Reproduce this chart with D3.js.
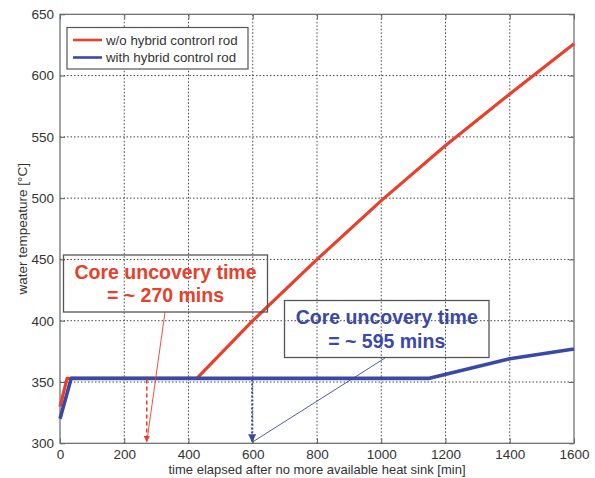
<!DOCTYPE html>
<html lang="en">
<head>
<meta charset="UTF-8">
<title>Water temperature</title>
<script src="https://d3js.org/d3.v7.min.js"></script>
<style>
  body { margin: 0; background: #fff; }
  text { font-family: "Liberation Sans", Arial, sans-serif; }
</style>
</head>
<body>
<div id="chart"></div>
<script>
// values
const xTicks = [0, 200, 400, 600, 800, 1000, 1200, 1400, 1600];
const yTicks = [300, 350, 400, 450, 500, 550, 600, 650];

const redTime = [0, 22, 426, 600, 800, 1000, 1200, 1400, 1600];
const redTemp = [330, 353, 353, 400, 450, 498, 543, 585, 626];
const blueTime = [0, 35, 1150, 1400, 1600];
const blueTemp = [320, 353, 353, 369, 377];

const seriesNames = ["w/o hybrid controrl rod", "with hybrid control rod"];
const uncoveryTimes = [270, 598];
const uncoveryLabels = ["= ~ 270 mins", "= ~ 595 mins"];

const red = "#e8402a", blue = "#3a48a6";
const width = 595, height = 478;
const margin = {top: 14.3, right: 21, bottom: 34.7, left: 60};

const svg = d3.select("#chart").append("svg")
    .attr("width", width)
    .attr("height", height);

const x = d3.scaleLinear().domain([0, 1600]).range([margin.left, width - margin.right]);
const y = d3.scaleLinear().domain([300, 650]).range([height - margin.bottom, margin.top]);

// grid
const grid = svg.append("g")
    .attr("stroke", "#444")
    .attr("stroke-width", 1)
    .attr("stroke-dasharray", "1.5,2");
grid.selectAll(".gx").data(xTicks.slice(1, -1)).join("line")
    .attr("x1", d => x(d)).attr("x2", d => x(d))
    .attr("y1", y(300)).attr("y2", y(650));
grid.selectAll(".gy").data(yTicks.slice(1, -1)).join("line")
    .attr("y1", d => y(d)).attr("y2", d => y(d))
    .attr("x1", x(0)).attr("x2", x(1600));

// axes (matlab-ish, ticks inward on all sides)
const axisColor = "#666";
function styleAxis(g) {
  g.select(".domain").remove();
  g.selectAll(".tick line").attr("stroke", axisColor);
  g.selectAll(".tick text").attr("fill", "#333").style("font-size", "13.5px");
}
svg.append("g").attr("transform", `translate(0,${y(300)})`)
    .call(d3.axisBottom(x).tickValues(xTicks).tickSize(-5).tickPadding(6).tickFormat(d3.format("d")))
    .call(styleAxis);
svg.append("g").attr("transform", `translate(0,${y(650)})`)
    .call(d3.axisTop(x).tickValues(xTicks).tickSize(-5).tickFormat(""))
    .call(styleAxis);
svg.append("g").attr("transform", `translate(${x(0)},0)`)
    .call(d3.axisLeft(y).tickValues(yTicks).tickSize(-5).tickPadding(6))
    .call(styleAxis);
svg.append("g").attr("transform", `translate(${x(1600)},0)`)
    .call(d3.axisRight(y).tickValues(yTicks).tickSize(-5).tickFormat(""))
    .call(styleAxis);

svg.append("rect")
    .attr("x", x(0)).attr("y", y(650))
    .attr("width", x(1600) - x(0)).attr("height", y(300) - y(650))
    .attr("fill", "none").attr("stroke", axisColor).attr("stroke-width", 1.2);

// axis labels
svg.append("text")
    .attr("x", (x(0) + x(1600)) / 2).attr("y", height - 4)
    .attr("text-anchor", "middle").attr("fill", "#333").style("font-size", "13px")
    .text("time elapsed after no more available heat sink [min]");
svg.append("text")
    .attr("transform", `translate(27,${(y(300) + y(650)) / 2}) rotate(-90)`)
    .attr("text-anchor", "middle").attr("fill", "#333").style("font-size", "13.5px")
    .text("water tempeature [\u00B0C]");

// data lines
const line = d3.line().x(d => x(d[0])).y(d => y(d[1]));
svg.append("path")
    .datum(d3.zip(redTime, redTemp))
    .attr("d", line).attr("fill", "none")
    .attr("stroke", red).attr("stroke-width", 3.2).attr("stroke-linejoin", "round");
svg.append("path")
    .datum(d3.zip(blueTime, blueTemp))
    .attr("d", line).attr("fill", "none")
    .attr("stroke", blue).attr("stroke-width", 3.6).attr("stroke-linejoin", "round");

// uncovery markers
const defs = svg.append("defs");
[["arrowRed", red], ["arrowBlue", blue]].forEach(([id, c]) => {
  defs.append("marker").attr("id", id)
      .attr("viewBox", "0 0 10 10").attr("refX", 10).attr("refY", 5)
      .attr("markerWidth", 4).attr("markerHeight", 4).attr("orient", "auto")
      .append("path").attr("d", "M0,0L10,5L0,10Z").attr("fill", c);
});

svg.append("line")
    .attr("x1", x(uncoveryTimes[0])).attr("x2", x(uncoveryTimes[0]))
    .attr("y1", y(352)).attr("y2", y(300) - 1)
    .attr("stroke", red).attr("stroke-width", 1.6).attr("stroke-dasharray", "4,3")
    .attr("marker-end", "url(#arrowRed)");
svg.append("line")
    .attr("x1", x(uncoveryTimes[1])).attr("x2", x(uncoveryTimes[1]))
    .attr("y1", y(352)).attr("y2", y(300) - 1)
    .attr("stroke", blue).attr("stroke-width", 2).attr("stroke-dasharray", "2,2")
    .attr("marker-end", "url(#arrowBlue)");

// annotation boxes
const boxes = [
  {x0: 63.5, y0: 255, w: 204, h: 57, color: red, lx: 165, ly: 312},
  {x0: 284.5, y0: 300.5, w: 204.5, h: 57, color: blue, lx: 385, ly: 358}
];
boxes.forEach((b, i) => {
  svg.append("line")
      .attr("x1", b.lx).attr("y1", b.ly)
      .attr("x2", x(uncoveryTimes[i])).attr("y2", y(300) - 1)
      .attr("stroke", b.color).attr("stroke-width", 0.9);
  svg.append("rect")
      .attr("x", b.x0).attr("y", b.y0).attr("width", b.w).attr("height", b.h)
      .attr("fill", "none").attr("stroke", "#555").attr("stroke-width", 1.3);
  svg.append("text")
      .attr("x", b.x0 + b.w / 2).attr("y", b.y0 + 23.5)
      .attr("text-anchor", "middle").attr("fill", b.color)
      .style("font-size", "19.5px").style("font-weight", "bold")
      .text("Core uncovery time");
  svg.append("text")
      .attr("x", b.x0 + b.w / 2).attr("y", b.y0 + 47)
      .attr("text-anchor", "middle").attr("fill", b.color)
      .style("font-size", "19.5px").style("font-weight", "bold")
      .text(uncoveryLabels[i]);
});

// legend
const legend = svg.append("g");
legend.append("rect")
    .attr("x", 67).attr("y", 27.5).attr("width", 181).attr("height", 41.5)
    .attr("fill", "#fff").attr("stroke", "#555").attr("stroke-width", 1.2);
[red, blue].forEach((c, i) => {
  const ly = 40 + i * 17.5;
  legend.append("line")
      .attr("x1", 73).attr("x2", 102).attr("y1", ly).attr("y2", ly)
      .attr("stroke", c).attr("stroke-width", 2.6);
  legend.append("text")
      .attr("x", 106).attr("y", ly + 4.7)
      .attr("fill", "#333").style("font-size", "13.3px")
      .text(seriesNames[i]);
});
</script>
</body>
</html>
